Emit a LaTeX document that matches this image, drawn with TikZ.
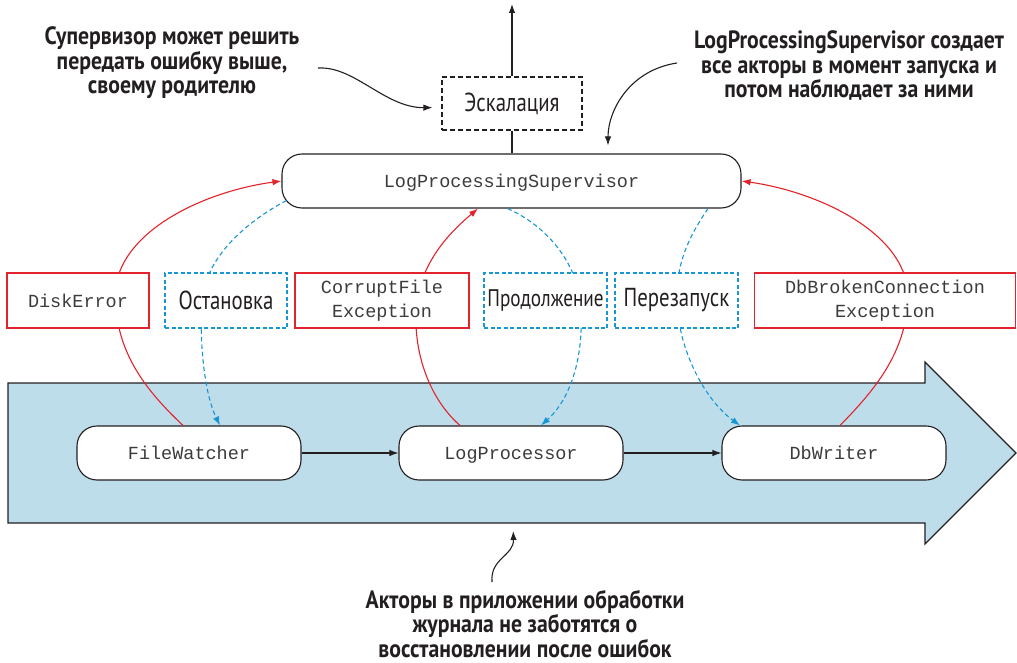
\documentclass[tikz,border=0pt]{standalone}
\usepackage{fontspec}
\setmonofont{Liberation Mono}
\newfontfamily\condf[FakeStretch=0.80]{PT Sans}
\newfontfamily\annf[FakeStretch=0.87]{PT Sans}
\usetikzlibrary{arrows.meta}
\definecolor{errred}{RGB}{226,35,43}
\definecolor{stratblue}{RGB}{22,150,210}
\definecolor{flowfill}{RGB}{190,221,235}
\definecolor{inkc}{RGB}{35,31,32}
\definecolor{monoc}{RGB}{60,60,60}
\tikzset{
  actor/.style={draw=inkc, fill=white, rounded corners=20pt, minimum width=224pt, minimum height=54pt, inner sep=0pt, line width=1.1pt, text height=14pt, text depth=1pt, font=\ttfamily\fontsize{18.5}{24}\selectfont, text=monoc},
  errbox/.style={draw=errred, fill=white, line width=1.3pt, inner sep=0pt, minimum height=55pt, align=center, font=\ttfamily\fontsize{18.5}{24}\selectfont, text=monoc},
  stratbox/.style={draw=stratblue, fill=white, line width=1.1pt, dash pattern=on 4pt off 2.5pt, inner sep=0pt, minimum height=55pt, minimum width=123pt, font=\condf\fontsize{26}{28}\selectfont, text=inkc},
  annot/.style={align=center, text=inkc, font=\annf\bfseries\fontsize{25}{24.5}\selectfont},
  errline/.style={draw=errred, line width=1.1pt, -{Latex[length=9pt,width=6.5pt]}},
  stratline/.style={draw=stratblue, line width=1.1pt, dash pattern=on 4.5pt off 3pt, -{Latex[length=9pt,width=6.5pt]}},
  blackline/.style={draw=inkc, line width=1.1pt, -{Latex[length=9pt,width=6.5pt]}},
}
\begin{document}
\begin{tikzpicture}[x=1pt,y=-1pt]
\useasboundingbox (0,0) rectangle (1017,663);
% big flow arrow
\draw[fill=flowfill, draw=inkc, line width=1.1pt, line join=miter]
  (8,383) -- (925,383) -- (925,362) -- (1016,453) -- (925,544) -- (925,523) -- (8,523) -- cycle;
\coordinate (flowbottom) at (513,523);

% actors
\node[actor] (fw) at (189,453) {FileWatcher};
\node[actor] (lp) at (511,453) {LogProcessor};
\node[actor] (dw) at (834,453) {DbWriter};
\draw[blackline] (fw) -- (lp);
\draw[blackline] (lp) -- (dw);

% supervisor
\node[actor, minimum width=459pt] (sup) at (511.5,181) {LogProcessingSupervisor};

% escalation
\node[draw=inkc, fill=white, line width=1.1pt, dash pattern=on 5pt off 3pt, minimum width=140pt, minimum height=53pt, inner sep=0pt, font=\condf\fontsize{26}{28}\selectfont, text=inkc] (esc) at (512,103.5) {Эскалация};
\coordinate (up) at (512,4);
\draw[blackline] (esc.north) -- (up);
\draw[draw=inkc, line width=1.1pt] (esc.south) -- (esc.south |- sup.north);

% red error curves
\draw[errline] ([xshift=-6pt]fw.north) .. controls (140,385) and (118,350) .. (115,300) .. controls (112,235) and (200,192) .. (sup.west);
\draw[errline] ([xshift=-51pt]lp.north) .. controls (425,395) and (410,340) .. (418,295) .. controls (426,255) and (455,228) .. ([xshift=-33.5pt]sup.south);
\draw[errline] ([xshift=6pt]dw.north) .. controls (880,385) and (905,350) .. (908,300) .. controls (911,235) and (820,192) .. (sup.east);

% blue strategy curves
\draw[stratline] ([xshift=5pt,yshift=8pt]sup.south west) .. controls (240,225) and (205,262) .. (202,300) .. controls (199,345) and (205,395) .. ([xshift=31pt]fw.north);
\draw[stratline] ([xshift=-4pt]sup.south) .. controls (545,225) and (575,260) .. (580,300) .. controls (585,345) and (575,395) .. ([xshift=30pt]lp.north);
\draw[stratline] ([xshift=196.5pt]sup.south) .. controls (690,235) and (676,262) .. (677,300) .. controls (678,350) and (705,400) .. ([xshift=-94pt]dw.north);

% labels
\node[errbox, minimum width=142pt] (de) at (78,300.5) {DiskError};
\node[stratbox, minimum width=122pt] (ost) at (226,300.5) {Остановка};
\node[errbox, minimum width=174pt] (cfe) at (382,300.5) {CorruptFile\\Exception};
\node[stratbox] (prod) at (545.5,300.5) {\fontsize{24}{26}\selectfont Продолжение};
\node[stratbox] (rst) at (676.5,300.5) {Перезапуск};
\node[errbox, minimum width=261pt] (dbe) at (885,300.5) {DbBrokenConnection\\Exception};

% annotations
\node[annot] (ann1) at (172,63) {Супервизор может решить\\передать ошибку выше,\\своему родителю};
\coordinate (a1s) at (318,68);
\draw[blackline, shorten >=9pt] (a1s) .. controls (355,66) and (385,108) .. ([yshift=-4pt]esc.west);

\node[annot] (ann2) at (849,66) {LogProcessingSupervisor создает\\все акторы в момент запуска и\\потом наблюдает за ними};
\coordinate (a2s) at (677,63);
\draw[blackline, shorten >=8pt] (a2s) .. controls (630,70) and (608,110) .. ([xshift=96.5pt]sup.north);

\node[annot, font=\annf\bfseries\fontsize{25}{23}\selectfont] (ann3) at (525,624) {Акторы в приложении обработки\\журнала не заботятся о\\восстановлении после ошибок};
\coordinate (a3s) at (492,582);
\draw[blackline, shorten >=8pt] (a3s) .. controls (490,558) and (514,556) .. (flowbottom);
\end{tikzpicture}
\end{document}
